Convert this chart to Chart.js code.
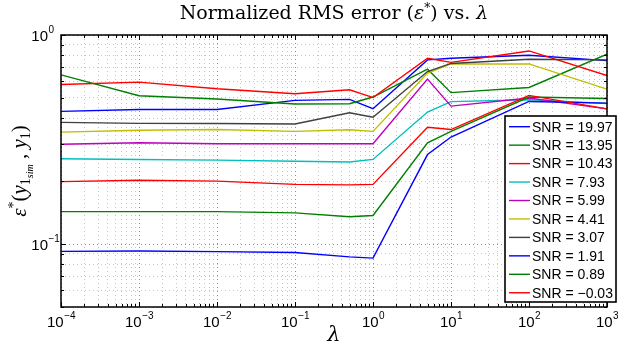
<!DOCTYPE html>
<html>
<head>
<meta charset="utf-8">
<script src="https://cdn.jsdelivr.net/npm/chart.js@4.4.0/dist/chart.umd.min.js"></script>
<style>
html,body{margin:0;padding:0;background:#fff}
</style>
</head>
<body>
<canvas id="chart" width="618" height="347"></canvas>
<script>
// lambda values (x) and one error curve per SNR
var lambdas = [1e-4, 1e-3, 1e-2, 1e-1, 0.5, 1, 5, 10, 100, 1000];
var snrNames = ['19.97', '13.95', '10.43', '7.93', '5.99', '4.41', '3.07', '1.91', '0.89', '\u22120.03'];
var err_1997 = [0.431, 0.440, 0.440, 0.487, 0.492, 0.444, 0.760, 0.774, 0.800, 0.754];
var err_1395 = [0.645, 0.512, 0.494, 0.468, 0.469, 0.505, 0.686, 0.530, 0.561, 0.809];
var err_1043 = [0.580, 0.595, 0.553, 0.524, 0.547, 0.502, 0.774, 0.740, 0.839, 0.640];
var err_793  = [0.256, 0.254, 0.252, 0.249, 0.247, 0.254, 0.428, 0.480, 0.490, 0.470];
var err_599  = [0.300, 0.305, 0.302, 0.302, 0.302, 0.302, 0.615, 0.457, 0.500, 0.443];
var err_441  = [0.343, 0.350, 0.353, 0.346, 0.352, 0.346, 0.657, 0.727, 0.727, 0.551];
var err_307  = [0.382, 0.378, 0.377, 0.375, 0.425, 0.404, 0.669, 0.731, 0.766, 0.760];
var err_191  = [0.0923, 0.0926, 0.0920, 0.0912, 0.0868, 0.0857, 0.268, 0.325, 0.481, 0.472];
var err_089  = [0.143, 0.143, 0.143, 0.141, 0.135, 0.137, 0.305, 0.346, 0.505, 0.497];
var err_m003 = [0.199, 0.202, 0.200, 0.193, 0.192, 0.193, 0.362, 0.353, 0.514, 0.443];
var series = [err_1997, err_1395, err_1043, err_793, err_599, err_441, err_307, err_191, err_089, err_m003];
var colors = ['#0000ff', '#008000', '#ff0000', '#00bfbf', '#bf00bf', '#bfbf00', '#404040', '#0000ff', '#008000', '#ff0000'];
var xTickExps = [-4, -3, -2, -1, 0, 1, 2, 3];
var yTickExps = [0, -1];

function logTicks(lo, hi, min) {
    var t = [];
    for (var e = lo; e < hi; e++) {
        for (var m = 1; m < 10; m++) {
            var v = m * Math.pow(10, e);
            if (v >= min * 0.999) t.push({value: v});
        }
    }
    t.push({value: Math.pow(10, hi)});
    return t;
}
function isMajor(v) {
    var l = Math.log10(v);
    return Math.abs(l - Math.round(l)) < 1e-9;
}

var datasets = [];
for (var i = 0; i < series.length; i++) {
    datasets.push({
        label: 'SNR = ' + snrNames[i],
        data: lambdas.map(function (x, k) { return {x: x, y: series[i][k]}; }),
        borderColor: colors[i],
        backgroundColor: colors[i],
        borderWidth: 1.4,
        pointRadius: 0,
        tension: 0,
        order: -i
    });
}

var gridOpts = {
    drawTicks: false,
    lineWidth: 1,
    color: function (c) { return c.tick && isMajor(c.tick.value) ? '#8c8c8c' : '#c4c4c4'; }
};

function drawPow(ctx, x, y, exp, align) {
    var e = exp < 0 ? '\u2212' + (-exp) : '' + exp;
    ctx.font = '15px "Liberation Sans", Arial, sans-serif';
    var wb = ctx.measureText('10').width;
    ctx.font = '10px "Liberation Sans", Arial, sans-serif';
    var we = ctx.measureText(e).width;
    var x0 = align === 'center' ? x - (wb + we) / 2 : x - wb;
    ctx.textAlign = 'left';
    ctx.textBaseline = 'alphabetic';
    ctx.font = '15px "Liberation Sans", Arial, sans-serif';
    ctx.fillText('10', x0, y);
    ctx.font = '10px "Liberation Sans", Arial, sans-serif';
    ctx.fillText(e, x0 + wb + 0.5, y - 8);
}

// draw a run of text pieces: [text, font, dy]
function drawRun(ctx, pieces, cx, y) {
    var total = 0, widths = [];
    pieces.forEach(function (p) { ctx.font = p[1]; var w = ctx.measureText(p[0]).width; widths.push(w); total += w; });
    var x = cx - total / 2;
    ctx.textAlign = 'left';
    ctx.textBaseline = 'alphabetic';
    pieces.forEach(function (p, k) { ctx.font = p[1]; ctx.fillText(p[0], x, y + (p[2] || 0)); x += widths[k]; });
}

var decoPlugin = {
    id: 'deco',
    afterDatasetsDraw: function (chart) {
        var ctx = chart.ctx, a = chart.chartArea;
        var xs = chart.scales.x, ys = chart.scales.y;
        ctx.save();
        ctx.strokeStyle = '#000';
        ctx.fillStyle = '#000';
        ctx.lineWidth = 1;
        // inward tick marks on all four sides
        ctx.beginPath();
        xs.ticks.forEach(function (t) {
            var px = Math.round(xs.getPixelForValue(t.value)) + 0.5;
            var len = isMajor(t.value) ? 5 : 3;
            ctx.moveTo(px, a.bottom); ctx.lineTo(px, a.bottom - len);
            ctx.moveTo(px, a.top); ctx.lineTo(px, a.top + len);
        });
        ys.ticks.forEach(function (t) {
            var py = Math.round(ys.getPixelForValue(t.value)) + 0.5;
            var len = isMajor(t.value) ? 5 : 3;
            ctx.moveTo(a.left, py); ctx.lineTo(a.left + len, py);
            ctx.moveTo(a.right, py); ctx.lineTo(a.right - len, py);
        });
        ctx.stroke();
        ctx.lineWidth = 1.5;
        ctx.strokeRect(a.left, a.top, a.right - a.left, a.bottom - a.top);

        // tick labels
        xTickExps.forEach(function (e) {
            drawPow(ctx, xs.getPixelForValue(Math.pow(10, e)), 327, e, 'center');
        });
        yTickExps.forEach(function (e) {
            drawPow(ctx, 48, ys.getPixelForValue(Math.pow(10, e)) + 6, e, 'right');
        });

        // title
        var serif = '"DejaVu Serif", "Liberation Serif", serif';
        drawRun(ctx, [
            ['Normalized RMS error (', '19px ' + serif, 0],
            ['\u03b5', 'italic 19px ' + serif, 0],
            ['*', '12px ' + serif, -7],
            [') vs. ', '19px ' + serif, 0],
            ['\u03bb', 'italic 19px ' + serif, 0]
        ], (a.left + a.right) / 2, 19);

        // x axis title
        drawRun(ctx, [['\u03bb', 'italic 21px ' + serif, 0]], (a.left + a.right) / 2, 341);

        // y axis title, rotated
        ctx.save();
        ctx.translate(26, 171);
        ctx.rotate(-Math.PI / 2);
        var serif2 = '"Liberation Serif", "DejaVu Serif", serif';
        drawRun(ctx, [
            ['\u03b5', 'italic 21px ' + serif2, 0],
            ['*', '14px ' + serif2, -8],
            ['(', '21px ' + serif2, 0],
            ['y', 'italic 21px ' + serif2, 0],
            ['1', '14px ' + serif2, 4],
            ['sim', 'italic 10px ' + serif2, 7],
            [' , ', '21px ' + serif2, 0],
            ['y', 'italic 21px ' + serif2, 0],
            ['1', '14px ' + serif2, 4],
            [')', '21px ' + serif2, 0]
        ], 0, 0);
        ctx.restore();

        // legend box
        var lx = 505, ly = 116, lw = 111, lh = 186;
        ctx.fillStyle = '#fff';
        ctx.fillRect(lx, ly, lw, lh);
        ctx.strokeStyle = '#000';
        ctx.lineWidth = 1.6;
        ctx.strokeRect(lx, ly, lw, lh);
        ctx.font = '14px "Liberation Sans", Arial, sans-serif';
        ctx.textAlign = 'left';
        ctx.textBaseline = 'middle';
        chart.data.datasets.forEach(function (d, k) {
            var ry = ly + 10.7 + k * 18.45;
            ctx.strokeStyle = d.borderColor;
            ctx.lineWidth = 1.4;
            ctx.beginPath();
            ctx.moveTo(509, ry); ctx.lineTo(530, ry);
            ctx.stroke();
            ctx.fillStyle = '#000';
            ctx.fillText(d.label, 532, ry + 1);
        });
        ctx.restore();
    }
};

new Chart(document.getElementById('chart').getContext('2d'), {
    type: 'line',
    data: {datasets: datasets},
    options: {
        responsive: false,
        animation: false,
        layout: {padding: {top: 35, right: 11, left: 0, bottom: 0}},
        plugins: {legend: {display: false}, title: {display: false}, tooltip: {enabled: false}},
        scales: {
            x: {
                type: 'logarithmic', min: 1e-4, max: 1e3,
                afterBuildTicks: function (s) { s.ticks = logTicks(-4, 3, 1e-4); },
                afterFit: function (s) { s.height = 40; },
                ticks: {display: false},
                grid: gridOpts,
                border: {display: false, dash: [1, 3]}
            },
            y: {
                type: 'logarithmic', min: 0.05, max: 1,
                afterBuildTicks: function (s) { s.ticks = logTicks(-2, 0, 0.05); },
                afterFit: function (s) { s.width = 61; },
                ticks: {display: false},
                grid: gridOpts,
                border: {display: false, dash: [1, 3]}
            }
        }
    },
    plugins: [decoPlugin]
});
</script>
</body>
</html>
